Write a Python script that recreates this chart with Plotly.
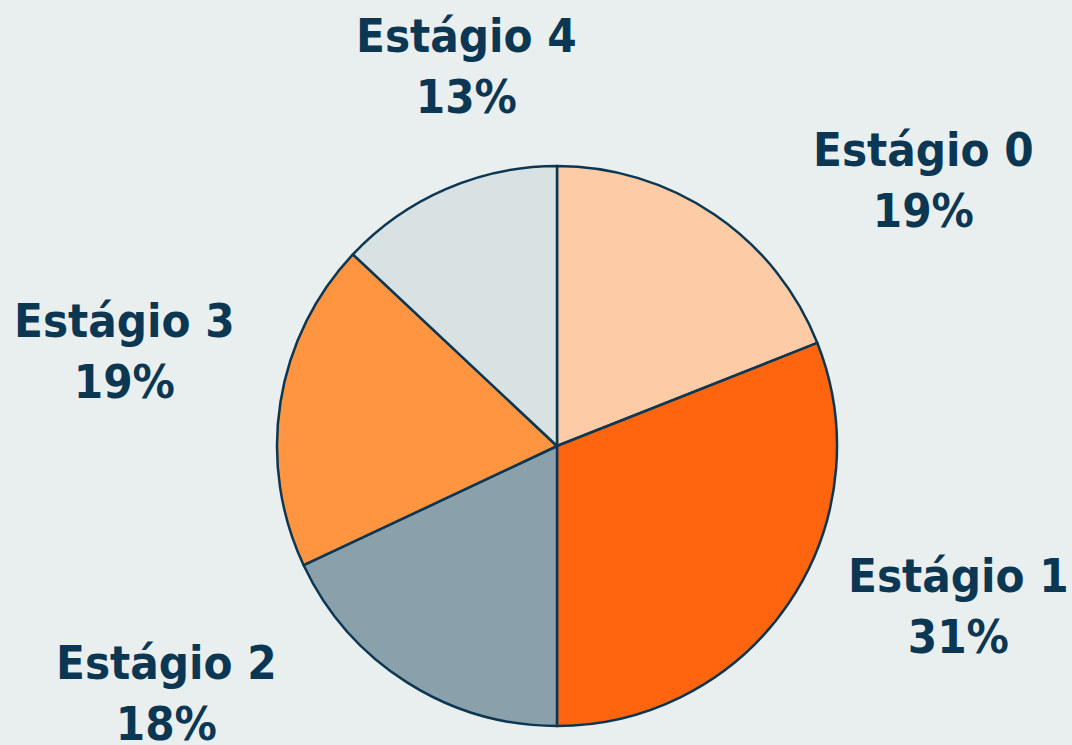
import plotly.graph_objects as go

labels = ["Estágio 0", "Estágio 1", "Estágio 2", "Estágio 3", "Estágio 4"]
values = [19, 31, 18, 19, 13]
colors = ["#fdcba6", "#ff650f", "#8aa0ab", "#ff9540", "#d9e2e3"]

# label box centres in pixels (x, y from top)
label_pos = [(923, 180), (958, 606), (166, 693), (124, 351), (466, 66)]

W, H = 1072, 745
NAVY = "#0b3753"
BG = "#e9eeef"
CX, CY, R = 557, 446, 280

total = sum(values)

fig = go.Figure(go.Pie(
    labels=labels, values=values, sort=False, direction="clockwise", rotation=0,
    marker=dict(colors=colors, line=dict(color=NAVY, width=2.5)),
    textinfo="none",
    domain=dict(x=[(CX - R) / W, (CX + R) / W], y=[0, 1]),
    showlegend=False, hoverinfo="label+percent",
))

# paper coords span the plot area (margins excluded)
for lab, v, (px, py) in zip(labels, values, label_pos):
    fig.add_annotation(
        x=px / W, y=(CY + R - py) / (2 * R), xref="paper", yref="paper",
        text=f"{lab}<br>{round(v / total * 100)}%", showarrow=False,
        xanchor="center", yanchor="middle",
        font=dict(family="DejaVu Sans Condensed, DejaVu Sans", size=47,
                  color=NAVY, weight="bold"),
    )

fig.update_layout(
    width=W, height=H,
    paper_bgcolor=BG, plot_bgcolor=BG,
    margin=dict(l=0, r=0, t=CY - R, b=H - CY - R),
)

fig.write_html("out.html", config={"displayModeBar": False},
               post_script="document.body.style.margin='0';")
